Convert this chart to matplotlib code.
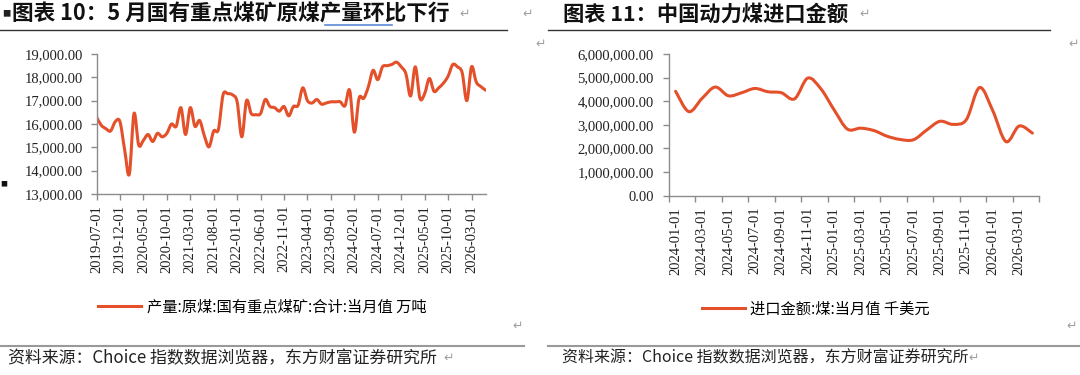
import numpy as np
import pandas as pd
import matplotlib
matplotlib.use('Agg')
import matplotlib.pyplot as plt
from matplotlib.path import Path
from matplotlib.patches import PathPatch
from matplotlib.lines import Line2D
from matplotlib.ticker import FuncFormatter

# 数据：国有重点煤矿原煤产量 当月值（万吨），2019-07 起按月
coal_months = pd.date_range('2019-07-01', periods=84, freq='MS').strftime('%Y-%m-%d')
coal_output = [
    16300, 15950, 15800, 15700, 16100, 16100, 14900, 13850, 16450, 15100,
    15300, 15550, 15250, 15600, 15450, 15600, 16000, 15900, 16700, 15550,
    16700, 15900, 16150, 15500, 15020, 15700, 15770, 17250, 17300, 17250,
    16950, 15450, 17000, 16450, 16400, 16450, 17050, 16750, 16700, 16550,
    16750, 16350, 16750, 16800, 17550, 17000, 16900, 17050, 16850, 16900,
    16950, 16950, 16950, 16780, 17450, 15650, 17100, 17100, 17600, 18300,
    17900, 18450, 18500, 18550, 18650, 18450, 18150, 17200, 18450, 17100,
    17300, 17950, 17400, 17550, 17750, 18050, 18550, 18450, 18200, 17000,
    18450, 17800, 17600, 17450,
]

# 数据：煤进口金额 当月值（千美元），2024-01 起按月
imp_months = pd.date_range('2024-01-01', periods=28, freq='MS').strftime('%Y-%m-%d')
imp_value = [
    4420000, 3560000, 4120000, 4600000, 4230000, 4360000, 4540000, 4400000,
    4360000, 4100000, 4980000, 4520000, 3630000, 2820000, 2860000, 2760000,
    2520000, 2380000, 2370000, 2780000, 3150000, 3020000, 3220000, 4580000,
    3600000, 2290000, 2950000, 2650000,
]

CJK = ['Noto Sans CJK SC', 'DejaVu Sans']
SERIF = ['Liberation Serif', 'DejaVu Serif']
LINE_C = '#E4502A'
AX_C = '#8C8C8C'
W, H = 1080, 375

plt.rcParams['font.family'] = SERIF


def px(x, y):
    return x / W, 1 - y / H


def smooth_line(ax, xs, ys, color, lw, t=1 / 6):
    # Excel 风格平滑线：用三次贝塞尔连接各数据点
    xs = np.asarray(xs, float)
    ys = np.asarray(ys, float)
    n = len(xs)
    verts = [(xs[0], ys[0])]
    codes = [Path.MOVETO]
    for i in range(n - 1):
        a = max(i - 1, 0)
        b = min(i + 2, n - 1)
        c1 = (xs[i] + (xs[i + 1] - xs[a]) * t, ys[i] + (ys[i + 1] - ys[a]) * t)
        c2 = (xs[i + 1] - (xs[b] - xs[i]) * t, ys[i + 1] - (ys[b] - ys[i]) * t)
        verts += [c1, c2, (xs[i + 1], ys[i + 1])]
        codes += [Path.CURVE4] * 3
    ax.add_patch(PathPatch(Path(verts, codes), fill=False, ec=color, lw=lw,
                           capstyle='round', joinstyle='round'))


def style_axes(ax, ypad):
    for s in ['top', 'right']:
        ax.spines[s].set_visible(False)
    for s in ['left', 'bottom']:
        ax.spines[s].set_color(AX_C)
        ax.spines[s].set_linewidth(1.0)
    ax.tick_params(axis='both', which='major', direction='out', length=4,
                   width=1, color=AX_C, labelcolor='#222222', labelsize=10.5)
    ax.tick_params(axis='y', pad=ypad)
    ax.yaxis.set_major_formatter(FuncFormatter(lambda v, p: f'{v:,.2f}'))


fig = plt.figure(figsize=(W / 100, H / 100), dpi=100)
fig.patch.set_facecolor('white')

# ============ 左图：原煤产量 ============
l0, r0, t0, b0 = 96.5, 485.6, 54, 194
ax1 = fig.add_axes([l0 / W, 1 - b0 / H, (r0 - l0) / W, (b0 - t0) / H])
x1 = np.arange(len(coal_output))
smooth_line(ax1, x1, coal_output, LINE_C, 2.2)
ax1.set_xlim(0, len(coal_output) - 1)
ax1.set_ylim(13000, 19000)
ax1.set_yticks(np.arange(13000, 19001, 1000))
ax1.set_xticks(x1[::5])
ax1.set_xticklabels(coal_months[::5], rotation=90)
style_axes(ax1, 6)
ax1.tick_params(axis='x', pad=4)

# ============ 右图：进口金额 ============
l1, r1, t1, b1 = 669, 1039, 54, 195.7
ax2 = fig.add_axes([l1 / W, 1 - b1 / H, (r1 - l1) / W, (b1 - t1) / H])
x2 = np.arange(len(imp_value))
smooth_line(ax2, x2, imp_value, LINE_C, 2.2)
ax2.set_xlim(-0.5, len(imp_value) - 0.5)
ax2.set_ylim(0, 6000000)
ax2.set_yticks(np.arange(0, 6000001, 1000000))
ax2.set_xticks(np.arange(-0.5, len(imp_value), 2))
ax2.set_xticklabels([])
ax2.set_xticks(x2[::2], imp_months[::2], minor=True, rotation=90)
style_axes(ax2, 7)
ax2.tick_params(axis='x', which='minor', length=0, pad=8,
                labelsize=10.5, labelcolor='#222222')

# ============ 图例 ============
h1 = Line2D([], [], color=LINE_C, lw=2.2)
fig.legend([h1], ['产量:原煤:国有重点煤矿:合计:当月值 万吨'], loc='center left',
           bbox_to_anchor=px(84, 307), frameon=False, handlelength=2.8,
           handletextpad=0.45, prop={'family': CJK, 'size': 11})
h2 = Line2D([], [], color=LINE_C, lw=2.2)
fig.legend([h2], ['进口金额:煤:当月值 千美元'], loc='center left',
           bbox_to_anchor=px(688, 309), frameon=False, handlelength=2.8,
           handletextpad=0.35, prop={'family': CJK, 'size': 11})

# ============ 标题 / 来源 ============
fig.text(*px(2, 14), '■', family=CJK, fontsize=6, va='center', color='#222222')
fig.text(*px(12, 14), '图表 10：5 月国有重点煤矿原煤产量环比下行', family=CJK,
         fontsize=15.6, fontweight='bold', va='center', color='#111111')
fig.text(*px(563, 14), '图表 11：中国动力煤进口金额', family=CJK,
         fontsize=15.3, fontweight='bold', va='center', color='#111111')
fig.add_artist(Line2D([325 / W, 392 / W], [1 - 24.5 / H] * 2, color='#5B8BD6', lw=1.2))

fig.add_artist(Line2D([0, 507 / W], [1 - 29.5 / H] * 2, color='#333333', lw=1.0))
fig.add_artist(Line2D([548 / W, 1050 / W], [1 - 29.5 / H] * 2, color='#333333', lw=1.0))
fig.add_artist(Line2D([0, 524 / W], [1 - 346 / H] * 2, color='#999999', lw=1.5))
fig.add_artist(Line2D([548 / W, 1080 / W], [1 - 346 / H] * 2, color='#999999', lw=1.5))

src = '资料来源：Choice 指数数据浏览器，东方财富证券研究所'
fig.text(*px(8, 358), src, family=CJK, fontsize=12.2, va='center', color='#222222')
fig.text(*px(562, 358), src, family=CJK, fontsize=11.5, va='center', color='#222222')

fig.text(*px(0, 184), '■', family=CJK, fontsize=5, va='center', color='#111111')

# Word 段落标记
for x, y in [(459, 14), (522, 14), (859, 14), (535, 44), (1068, 44), (512, 326),
             (1066, 326), (443, 358), (968, 358)]:
    fig.text(*px(x, y), '↵', family=['DejaVu Sans'], fontsize=9, va='center',
             color='#A0A0A0')

plt.savefig('out.png', dpi=100)
